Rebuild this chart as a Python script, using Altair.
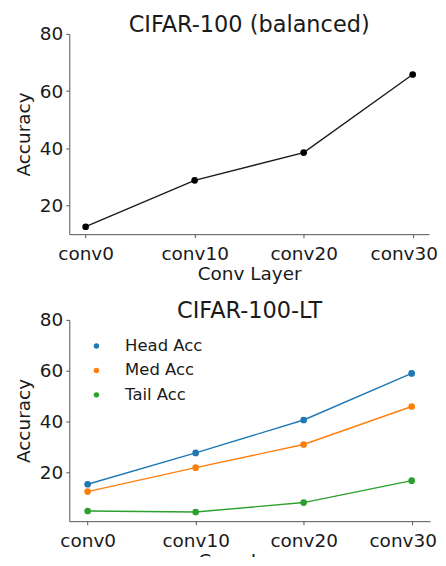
import altair as alt
import pandas as pd

layers = ["conv0", "conv10", "conv20", "conv30"]
balanced_acc = [12.6, 28.8, 38.5, 65.8]
head_acc = [15.5, 27.8, 40.7, 59.0]
med_acc = [12.6, 22.0, 31.1, 46.0]
tail_acc = [5.0, 4.6, 8.3, 16.9]
series_names = ["Head Acc", "Med Acc", "Tail Acc"]
series_colors = ["#1f77b4", "#ff7f0e", "#2ca02c"]
y_ticks = [20, 40, 60, 80]

FONT = "DejaVu Sans"

df_bal = pd.DataFrame({"layer": layers, "acc": balanced_acc})
rows = []
for name, vals in zip(series_names, [head_acc, med_acc, tail_acc]):
    for l, v in zip(layers, vals):
        rows.append({"layer": l, "acc": v, "series": name})
df_lt = pd.DataFrame(rows)

def xenc(pad):
    return alt.X("layer:N", sort=layers, scale=alt.Scale(type="point", padding=pad),
                 axis=alt.Axis(title="Conv Layer", labelAngle=0,
                               labelOffset={"condition": {"test": "datum.label == 'conv30'", "value": -9},
                                            "value": 0}))

def yenc(lo):
    return alt.Y("acc:Q", scale=alt.Scale(domain=[lo, 80], nice=False, zero=False),
                 axis=alt.Axis(title="Accuracy", values=y_ticks))

base_top = alt.Chart(df_bal)
top = alt.layer(
    base_top.mark_line(color="#1a1a1a", strokeWidth=1.4).encode(x=xenc(0.15), y=yenc(10)),
    base_top.mark_point(filled=True, color="#000000", size=45, opacity=1).encode(x=xenc(0.15), y=yenc(10)),
).properties(width=361, height=201,
             title=alt.TitleParams("CIFAR-100 (balanced)", frame="group", offset=-12))

color = alt.Color("series:N", sort=series_names,
                  scale=alt.Scale(domain=series_names, range=series_colors),
                  legend=alt.Legend(title=None, orient="none", legendX=19, legendY=18,
                                    symbolType="circle", symbolSize=30, labelFontSize=16.5,
                                    labelOffset=20.5, rowPadding=7.5, symbolStrokeWidth=0,
                                    labelFont=FONT, labelColor="#1a1a1a"))
base_lt = alt.Chart(df_lt)
bottom = alt.layer(
    base_lt.mark_line(strokeWidth=1.4).encode(x=xenc(0.17), y=yenc(1), color=color),
    base_lt.mark_point(filled=True, size=45, opacity=1).encode(x=xenc(0.17), y=yenc(1), color=color),
).properties(width=362, height=202,
             title=alt.TitleParams("CIFAR-100-LT", frame="group", offset=-12))

chart = alt.vconcat(top, bottom, spacing=17).resolve_scale(
    color="independent"
).resolve_legend(color="independent").properties(
    padding={"left": 5.5, "top": 5, "right": 0, "bottom": -14}
).configure_view(stroke=None).configure_axis(
    labelFont=FONT, titleFont=FONT, labelFontSize=18.5, titleFontSize=18.5,
    labelColor="#1a1a1a", titleColor="#1a1a1a", titleFontWeight="normal",
    domainColor="#555555", tickColor="#555555", tickSize=3.5, labelPadding=3,
    grid=False,
).configure_axisY(titlePadding=6).configure_axisX(titlePadding=1, labelPadding=7).configure_title(
    font=FONT, fontSize=22.5, fontWeight="normal", color="#1a1a1a", anchor="middle"
)

chart.save("out.html", embed_options={"renderer": "svg", "actions": False})
